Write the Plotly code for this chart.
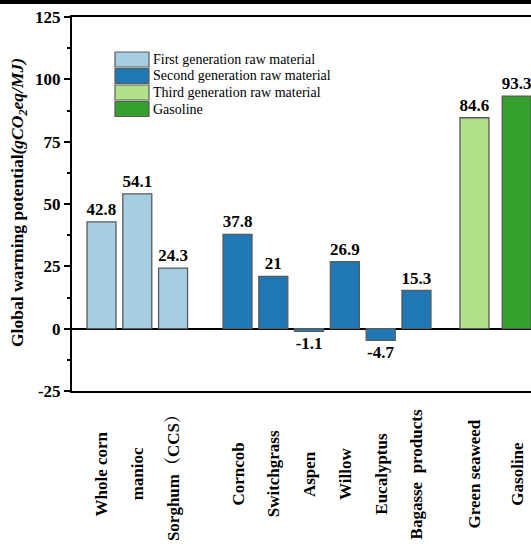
import plotly.graph_objects as go

# Feedstocks, grouped by generation
first_gen = ["Whole corn", "manioc", "Sorghum\uff08CCS\uff09"]
first_vals = [42.8, 54.1, 24.3]
second_gen = ["Corncob", "Switchgrass", "Aspen", "Willow", "Eucalyptus", "Bagasse\u00a0 products"]
second_vals = [37.8, 21, -1.1, 26.9, -4.7, 15.3]
third_gen = ["Green seaweed"]
third_vals = [84.6]
gasoline = ["Gasoline"]
gasoline_vals = [93.3]

series_names = ["First generation raw material", "Second generation raw material",
                "Third generation raw material", "Gasoline"]
y_ticks = [-25, 0, 25, 50, 75, 100, 125]

# layout: category slots along a numeric x axis (gaps between groups)
x_slots = [0, 1, 2, 3.8, 4.8, 5.8, 6.8, 7.8, 8.8, 10.42, 11.6]
colors = ["#a6cee3", "#1f78b4", "#b2df8a", "#33a02c"]

W, H = 531, 544
ML, MR, MT, MB = 72, 0, 17, 153
PW, PH = W - ML - MR, H - MT - MB

def px_x(p):
    return (p - ML) / PW

def px_y(p):
    return (H - MB - p) / PH

SERIF = "Liberation Serif, Times New Roman, Noto Serif CJK SC, Noto Sans CJK SC, serif"

groups = [first_gen, second_gen, third_gen, gasoline]
values = [first_vals, second_vals, third_vals, gasoline_vals]

fig = go.Figure()
i = 0
all_labels = []
for name, cats, vals, col in zip(series_names, groups, values, colors):
    xs = x_slots[i:i + len(cats)]
    i += len(cats)
    all_labels += list(zip(xs, cats))
    fig.add_trace(go.Bar(
        x=xs, y=vals, name=name,
        width=0.81,
        marker=dict(color=col, line=dict(color="#5a5a5a", width=1.3)),
        text=[f"<b>{v:g}</b>" for v in vals],
        textposition="outside",
        constraintext="none",
        textfont=dict(family=SERIF, size=17, color="black"),
        showlegend=False,
    ))

annotations = []
# category labels, rotated and centred below the axis
for xv, lab in all_labels:
    annotations.append(dict(
        x=xv, xref="x", y=px_y(474), yref="paper",
        text=f"<b>{lab}</b>", textangle=-90, showarrow=False,
        xanchor="center", yanchor="middle",
        font=dict(family=SERIF, size=17, color="black"),
    ))

# y-axis title
annotations.append(dict(
    x=px_x(18), xref="paper", y=px_y(203), yref="paper",
    text="<b>Global warming potential<i>(gCO<sub>2</sub>eq/MJ)</i></b>",
    textangle=-90, showarrow=False, xanchor="center", yanchor="middle",
    font=dict(family=SERIF, size=17.5, color="black"),
))

shapes = []
# legend swatches and labels
row_tops = [52, 68.5, 85, 101.5]
for top, name, col in zip(row_tops, series_names, colors):
    shapes.append(dict(
        type="rect", xref="paper", yref="paper",
        x0=px_x(115), x1=px_x(149), y0=px_y(top), y1=px_y(top + 15),
        fillcolor=col, line=dict(color="#5a5a5a", width=1.2), layer="above",
    ))
    annotations.append(dict(
        x=px_x(151), xref="paper", y=px_y(top + 7.5), yref="paper",
        text=name, showarrow=False, xanchor="left", yanchor="middle",
        font=dict(family=SERIF, size=14, color="black"),
    ))

# heavy rule across the top of the figure
shapes.append(dict(
    type="rect", xref="paper", yref="paper",
    x0=px_x(0), x1=1, y0=px_y(4), y1=px_y(0),
    fillcolor="black", line=dict(width=0),
))

fig.update_layout(
    width=W, height=H,
    margin=dict(l=ML, r=MR, t=MT, b=MB, pad=0),
    paper_bgcolor="white", plot_bgcolor="white",
    barmode="overlay",
    shapes=shapes, annotations=annotations,
    xaxis=dict(
        range=[-0.824, 12.0], showticklabels=False, ticks="",
        showgrid=False, zeroline=False,
        showline=True, linecolor="black", linewidth=2, mirror=True,
    ),
    yaxis=dict(
        range=[-25, 125], tickvals=y_ticks, ticktext=[f"<b>{t}</b>" for t in y_ticks],
        ticks="outside", ticklen=6, tickwidth=2, tickcolor="black",
        minor=dict(dtick=12.5, ticks="outside", ticklen=3, tickwidth=2, tickcolor="black"),
        tickfont=dict(family=SERIF, size=17, color="black"),
        showgrid=False, showline=True, linecolor="black", linewidth=2,
        zeroline=True, zerolinecolor="black", zerolinewidth=2,
    ),
)

fig.write_html("out.html")
